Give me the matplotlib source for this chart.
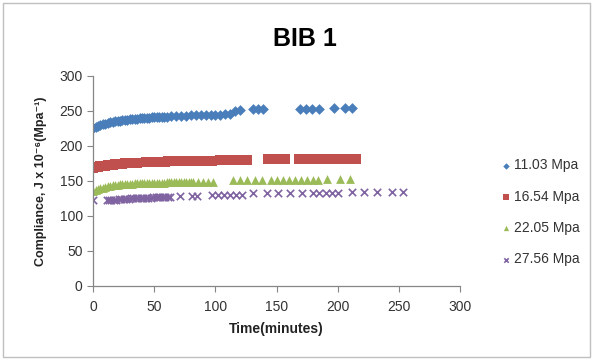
import matplotlib
matplotlib.use("Agg")
import matplotlib.pyplot as plt
from matplotlib.patches import Rectangle

plt.rcParams["font.family"] = ["Liberation Sans", "DejaVu Sans"]

# 11.03 MPa
t_a = [0, 2, 4, 6, 8, 10, 12, 14, 16, 18, 20, 22, 24, 26, 28, 30, 32, 34, 36, 38,
       40, 42, 44, 46, 48, 50, 52, 54, 56, 58, 60,
       64, 68, 72, 76, 80, 84, 88, 92, 96, 100, 104, 108, 112,
       116, 120, 131, 135, 139, 169, 174, 179, 185, 197, 206, 212]
j_a = [225, 227, 228.5, 230, 231, 232, 233, 234, 234.5, 235, 235.5, 236, 236.5, 237, 237.5,
       238, 238.5, 239, 239, 239.5, 240, 240, 240.5, 240.5, 241, 241, 241.5, 241.5, 242, 242, 242,
       242.5, 243, 243, 243, 243.5, 243.5, 244, 244, 244, 244.5, 244.5, 245, 245,
       250, 251, 252.5, 252.5, 252.5, 253, 253, 253, 253, 253.5, 253.5, 253.5]

# 16.54 MPa
t_b = [0, 2, 4, 6, 8, 10, 12, 14, 16, 18, 20, 22, 24, 26, 28, 30, 32, 34, 36,
       43, 45, 47, 49, 51, 53, 55, 57, 59, 61, 63, 65, 67, 69, 71, 73, 75, 77, 79,
       81, 83, 85, 87, 89, 91, 93, 95, 97,
       104, 106, 108, 110, 112, 114, 116, 118, 120, 122, 124, 126,
       143, 145, 147, 149, 151, 153, 155, 157,
       168, 170, 172, 174, 176, 178, 180, 182,
       189, 191, 193, 195, 197, 199, 201, 203, 205, 207, 209, 211, 213, 215]
j_b = [169, 170, 170.5, 171, 171.5, 172, 172.5, 173, 173, 173.5, 174, 174, 174.5, 175, 175,
       175.5, 175.5, 176, 176,
       177, 177, 177, 177, 177.5, 177.5, 177.5, 177.5, 177.5, 178, 178, 178, 178, 178,
       178, 178, 178.5, 178.5, 178.5, 178.5, 178.5, 179, 179, 179, 179, 179, 179, 179,
       179.5, 179.5, 179.5, 180, 180, 180, 180, 180, 180, 180, 180, 180,
       181, 181, 181, 181, 181, 181, 181, 181,
       181.5, 181.5, 181.5, 181.5, 181.5, 181.5, 181.5, 181.5,
       182, 182, 182, 182, 182, 182, 182, 182, 182, 182, 182, 182, 182, 182]

# 22.05 MPa
t_c = [0, 2, 4, 6, 8, 10, 12, 14, 16, 18, 20, 22, 24, 26, 28, 30, 32, 34, 36, 38,
       40, 42, 44, 46, 48, 50, 52, 54, 56, 58, 60, 62, 64, 66, 68, 70, 72, 74, 76, 78,
       80, 82, 86, 90, 94, 98,
       114, 120, 126, 132, 138,
       145, 150, 155, 160, 165, 170, 175, 180, 184,
       191, 202, 210]
j_c = [135, 137, 138.5, 139.5, 140.5, 141.5, 142, 143, 143.5, 144, 144.5, 145, 145, 145.5,
       146, 146, 146, 146.5, 146.5, 146.5, 147, 147, 147, 147, 147, 147.5, 147.5, 147.5,
       147.5, 147.5, 148, 148, 148, 148, 148, 148, 148, 148, 148.5, 148.5, 148.5, 148.5,
       149, 149, 149, 149,
       151, 151, 151, 151, 151,
       152, 152, 152, 152, 152, 152, 152, 152, 152,
       153, 153, 153]

# 27.56 MPa
t_d = [0, 11, 13, 15, 17, 19, 21, 23, 25, 27, 29, 31, 33, 35, 37, 39, 41, 43, 45, 47,
       49, 51, 53, 55, 57, 59, 61, 63,
       71, 81, 85, 97, 102, 107, 112, 117, 122,
       131, 142, 151, 161, 171, 180, 185, 190, 195, 200,
       212, 221, 232, 244, 253]
j_d = [122, 122, 122, 122.5, 123, 123, 123.5, 124, 124, 124.5, 124.5, 125, 125, 125,
       125.5, 125.5, 126, 126, 126, 126, 126.5, 126.5, 126.5, 126.5, 127, 127, 127, 127,
       129, 129, 129, 130.5, 130.5, 130.5, 130.5, 130.5, 130.5,
       132, 132, 132, 132, 132, 133, 133, 133, 133, 133,
       134, 134, 134, 134, 134]

labels = ["11.03 Mpa", "16.54 Mpa", "22.05 Mpa", "27.56 Mpa"]

fig = plt.figure(figsize=(5.93, 3.6), dpi=100)
ax = fig.add_axes([0.157, 0.206, 0.619, 0.583])

ax.scatter(t_a, j_a, marker="D", s=30, color="#4A7EBB", linewidths=0, label=labels[0])
ax.scatter(t_b, j_b, marker="s", s=46, color="#C0504D", linewidths=0, label=labels[1])
ax.scatter(t_c, j_c, marker="^", s=40, color="#9BBB59", linewidths=0, label=labels[2])
ax.scatter(t_d, j_d, marker="x", s=28, color="#8064A2", linewidths=1.2, label=labels[3])

ax.set_xlim(0, 300)
ax.set_ylim(0, 300)
ax.set_xticks(range(0, 301, 50))
ax.set_yticks(range(0, 301, 50))

for side in ["top", "right"]:
    ax.spines[side].set_visible(False)
for side in ["left", "bottom"]:
    ax.spines[side].set_color("#868686")
    ax.spines[side].set_linewidth(0.9)
ax.tick_params(colors="#868686", labelcolor="#333333", labelsize=10, length=4, width=0.8)
ax.tick_params(axis="x", pad=6)

ax.set_xlabel("Time(minutes)", fontsize=10, fontweight="bold", color="#222222", labelpad=6)
ax.set_ylabel("Compliance, J x 10\u207b\u2076(Mpa\u207b\u00b9)", fontsize=9,
              fontweight="bold", color="#222222", labelpad=9)

fig.text(0.515, 0.893, "BIB 1", ha="center", va="center", fontsize=18, fontweight="bold")

leg = fig.legend(loc="center left", bbox_to_anchor=(0.82, 0.41), frameon=False,
                 fontsize=10, handletextpad=0.1, labelspacing=1.25, markerscale=0.6,
                 handlelength=1.0, scatterpoints=1)
for txt in leg.get_texts():
    txt.set_color("#333333")

# outer chart border
fig.patches.append(Rectangle((0.005, 0.008), 0.99, 0.984, transform=fig.transFigure,
                             fill=False, edgecolor="#BFBFBF", linewidth=1.0))

fig.savefig("out.png", dpi=100)
